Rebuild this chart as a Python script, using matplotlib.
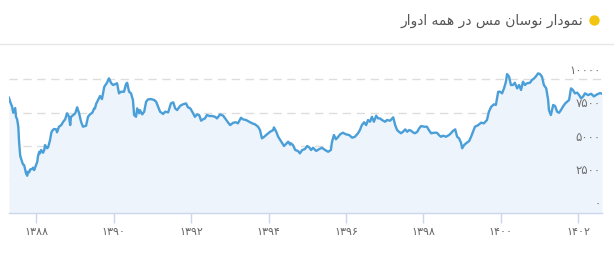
import matplotlib
matplotlib.use("Agg")
import matplotlib.pyplot as plt
from matplotlib.lines import Line2D
import matplotlib.transforms as mtransforms

# copper price, Persian calendar years (fractional)
years = [1387.30, 1387.33, 1387.38, 1387.41, 1387.46, 1387.48, 1387.51, 1387.54, 1387.56, 1387.59,
         1387.61, 1387.64, 1387.66, 1387.69, 1387.72, 1387.74, 1387.77, 1387.79, 1387.82, 1387.85,
         1387.90, 1387.92, 1387.95, 1388.00, 1388.03, 1388.05, 1388.08, 1388.10, 1388.13, 1388.18,
         1388.21, 1388.23, 1388.28, 1388.31, 1388.36, 1388.39, 1388.41, 1388.46, 1388.52, 1388.54,
         1388.59, 1388.65, 1388.70, 1388.75, 1388.80, 1388.85, 1388.88, 1388.90, 1388.96, 1389.01,
         1389.06, 1389.11, 1389.16, 1389.21, 1389.29, 1389.34, 1389.39, 1389.45, 1389.50, 1389.52,
         1389.55, 1389.60, 1389.65, 1389.70, 1389.76, 1389.83, 1389.88, 1389.94, 1389.99, 1390.04,
         1390.09, 1390.14, 1390.19, 1390.27, 1390.32, 1390.35, 1390.40, 1390.45, 1390.50, 1390.53,
         1390.58, 1390.61, 1390.66, 1390.68, 1390.74, 1390.79, 1390.84, 1390.89, 1390.97, 1391.05,
         1391.10, 1391.15, 1391.20, 1391.28, 1391.33, 1391.41, 1391.48, 1391.54, 1391.59, 1391.64,
         1391.72, 1391.79, 1391.87, 1391.92, 1391.98, 1392.03, 1392.10, 1392.16, 1392.21, 1392.26,
         1392.31, 1392.36, 1392.41, 1392.47, 1392.54, 1392.62, 1392.67, 1392.75, 1392.83, 1392.88,
         1392.96, 1393.01, 1393.09, 1393.16, 1393.21, 1393.29, 1393.34, 1393.42, 1393.50, 1393.58,
         1393.65, 1393.73, 1393.78, 1393.83, 1393.89, 1393.96, 1394.04, 1394.12, 1394.14, 1394.20,
         1394.25, 1394.32, 1394.40, 1394.45, 1394.51, 1394.56, 1394.58, 1394.63, 1394.69, 1394.76,
         1394.81, 1394.87, 1394.94, 1395.00, 1395.05, 1395.10, 1395.15, 1395.23, 1395.31, 1395.38,
         1395.46, 1395.54, 1395.61, 1395.64, 1395.69, 1395.74, 1395.80, 1395.85, 1395.92, 1396.00,
         1396.08, 1396.16, 1396.23, 1396.31, 1396.36, 1396.41, 1396.47, 1396.52, 1396.57, 1396.62,
         1396.67, 1396.72, 1396.78, 1396.83, 1396.88, 1396.93, 1397.01, 1397.06, 1397.14, 1397.22,
         1397.27, 1397.32, 1397.37, 1397.42, 1397.47, 1397.53, 1397.58, 1397.63, 1397.68, 1397.73,
         1397.78, 1397.84, 1397.89, 1397.94, 1398.02, 1398.09, 1398.14, 1398.20, 1398.27, 1398.35,
         1398.40, 1398.45, 1398.51, 1398.58, 1398.66, 1398.71, 1398.76, 1398.82, 1398.87, 1398.92,
         1398.97, 1399.00, 1399.05, 1399.10, 1399.18, 1399.23, 1399.28, 1399.33, 1399.41, 1399.49,
         1399.56, 1399.64, 1399.69, 1399.75, 1399.82, 1399.87, 1399.93, 1399.98, 1400.03, 1400.08,
         1400.13, 1400.16, 1400.21, 1400.26, 1400.31, 1400.36, 1400.42, 1400.47, 1400.52, 1400.57,
         1400.62, 1400.67, 1400.75, 1400.80, 1400.86, 1400.91, 1400.96, 1401.01, 1401.06, 1401.11,
         1401.17, 1401.22, 1401.24, 1401.29, 1401.35, 1401.40, 1401.45, 1401.50, 1401.55, 1401.60,
         1401.66, 1401.71, 1401.76, 1401.81, 1401.86, 1401.91, 1401.97, 1402.02, 1402.07, 1402.12,
         1402.17, 1402.25, 1402.33, 1402.40, 1402.48, 1402.56, 1402.61]

prices = [8600, 8300, 7930, 7480, 7830, 7180, 6990, 6440, 5320, 4250,
          4080, 3830, 3630, 3580, 3200, 2960, 2780, 3080, 3030, 3260,
          3280, 3380, 3200, 3580, 3830, 4250, 4570, 4450, 4700, 4500,
          4700, 5070, 4830, 4900, 5450, 5950, 6120, 6270, 6240, 6020,
          6440, 6560, 6810, 6990, 7440, 7180, 6560, 7180, 7310, 7440,
          7890, 7440, 6810, 6440, 6510, 7180, 7360, 7480, 7810, 7800,
          8150, 8430, 8730, 8500, 9420, 9720, 10050, 9680, 9550, 9620,
          9680, 8930, 9050, 9050, 9620, 9720, 9050, 8930, 8430, 7310,
          7180, 7810, 7440, 7680, 7360, 7560, 8300, 8480, 8500, 8430,
          8300, 7930, 7560, 7390, 7560, 7510, 8180, 8260, 7810, 7680,
          8000, 8110, 8180, 7890, 7810, 7560, 7180, 7360, 7310, 6890,
          6990, 7060, 7310, 7240, 7240, 7180, 7060, 7360, 7260, 7060,
          6740, 6560, 6740, 6770, 6690, 7110, 6990, 6940, 6810, 6690,
          6620, 6440, 6190, 5570, 5690, 5870, 6060, 6190, 6390, 6060,
          5690, 5370, 5000, 5150, 5320, 5100, 5200, 5070, 4700, 4630,
          4450, 4700, 4770, 5000, 4900, 4700, 4870, 4630, 4770, 4870,
          4700, 4570, 4700, 5320, 5820, 5500, 5690, 5870, 5990, 5870,
          5820, 5620, 5690, 5950, 6190, 6560, 6770, 6560, 6940, 6810,
          7180, 6810, 7260, 7060, 7060, 6940, 6810, 6940, 6890, 7140,
          6560, 6190, 6060, 5950, 6060, 6240, 6060, 6190, 6140, 6020,
          5950, 6060, 6320, 6490, 6440, 6440, 6190, 5950, 5990, 5990,
          5820, 5690, 5770, 5690, 5820, 5950, 6120, 6240, 5690, 5570,
          5240, 4830, 5070, 5200, 5370, 5690, 6060, 6440, 6550, 6740,
          6690, 6940, 7560, 7930, 8110, 8060, 9050, 9050, 8930, 9300,
          9800, 10370, 10170, 9550, 9550, 9720, 9300, 9550, 9180, 9800,
          9550, 9680, 9720, 9920, 10050, 10220, 10420, 10370, 10170, 9550,
          9300, 8430, 7680, 7310, 8060, 7980, 7560, 7480, 7680, 7930,
          8180, 8300, 8430, 9300, 9180, 8930, 8980, 8800, 8560, 8680,
          8930, 8800, 8900, 8700, 8850, 8950, 8900]

x_ticks = [1388, 1390, 1392, 1394, 1396, 1398, 1400, 1402]
x_labels = ["۱۳۸۸", "۱۳۹۰", "۱۳۹۲", "۱۳۹۴", "۱۳۹۶", "۱۳۹۸", "۱۴۰۰", "۱۴۰۲"]
y_ticks = [0, 2500, 5000, 7500, 10000]
y_labels = ["۰", "۲۵۰۰", "۵۰۰۰", "۷۵۰۰", "۱۰۰۰۰"]

# "نمودار نوسان مس در همه ادوار" pre-shaped, visual order (matplotlib has no RTL shaping)
TITLE = ("\uFEAD\uFE8D\uFEED\uFEA9\uFE8D \uFEEA\uFEE4\uFEEB \uFEAD\uFEA9 \uFEB2\uFEE3 "
         "\uFEE5\uFE8E\uFEB3\uFEEE\uFEE7 \uFEAD\uFE8D\uFEA9\uFEEE\uFEE4\uFEE7")

plt.rcParams['font.family'] = ['DejaVu Sans']

W, H = 614, 254
fig = plt.figure(figsize=(W / 100, H / 100), dpi=100)
ax = fig.add_axes([9 / W, 41 / H, 593 / W, 153 / H])

line_color = '#4a9fd8'
ax.fill_between(years, prices, 0, color='#edf4fc', lw=0)
ax.plot(years, prices, color=line_color, lw=1.7, solid_joinstyle='round')

ax.set_xlim(1387.30, 1402.61)
ax.set_ylim(0, 11418)

for s in ['top', 'left', 'right']:
    ax.spines[s].set_visible(False)
ax.spines['bottom'].set_color('#ccd6eb')
ax.spines['bottom'].set_linewidth(1)

ax.set_xticks(x_ticks)
ax.set_xticklabels(x_labels, fontsize=8, color='#666666')
ax.tick_params(axis='x', length=7, width=1, color='#ccd6eb', pad=3)

ax.set_yticks([])
for v in y_ticks[1:]:
    ax.axhline(v, color='#dddddd', lw=1, ls=(0, (6, 4)), zorder=0.5)

trans = mtransforms.blended_transform_factory(ax.transAxes, ax.transData)
for v, lab in zip(y_ticks, y_labels):
    ax.annotate(lab, xy=(1.0, v), xycoords=trans, xytext=(-1, 1.5), textcoords='offset points',
                ha='right', va='bottom', fontsize=8.5, color='#707070', zorder=5)

# header
fig.text(583 / W, 1 - 21 / H, TITLE, ha='right', va='center', fontsize=10, color='#555555')
fig.add_artist(Line2D([594 / W], [1 - 20 / H], transform=fig.transFigure,
                      marker='o', markersize=7.5, color='#f2c511', mec='none'))
fig.add_artist(Line2D([0, 1], [1 - 44 / H, 1 - 44 / H], transform=fig.transFigure,
                      color='#e6e6e6', lw=1))

fig.savefig('out.png', dpi=100)
